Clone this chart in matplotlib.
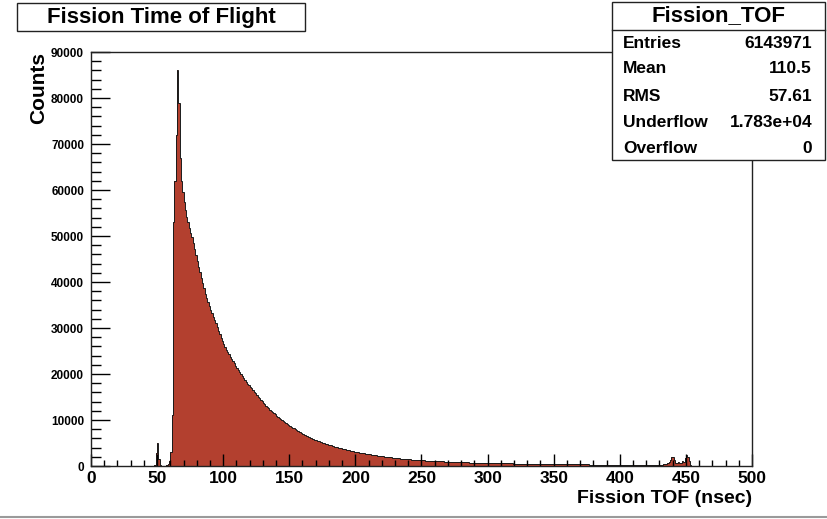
import matplotlib.pyplot as plt
import numpy as np
from matplotlib.patches import Rectangle
from matplotlib.lines import Line2D
from matplotlib.ticker import MultipleLocator

plt.rcParams['font.family'] = ['Liberation Sans', 'DejaVu Sans']
plt.rcParams['font.weight'] = 'bold'

# fission TOF histogram, 1 ns bins starting at 40 ns (empty below that)
first_bin = 40
counts = [
    0, 0, 0, 0, 0, 0, 0, 0, 300, 2800,
    5000, 1500, 300, 80, 30, 30, 60, 150, 400, 1100,
    3000, 11000, 53000, 62000, 72000, 86000, 79000, 67000, 62000, 59500,
    57300, 55600, 54200, 53000, 51800, 50600, 49800, 48500, 47200, 45900,
    44600, 43300, 42100, 40900, 39700, 38600, 37500, 36600, 35700, 34800,
    34000, 33200, 32400, 31700, 31000, 30200, 29400, 28700, 27900, 27200,
    26500, 25900, 25300, 24800, 24300, 23800, 23300, 22800, 22300, 21800,
    21300, 20850, 20400, 19950, 19500, 19100, 18700, 18300, 17900, 17550,
    17200, 16850, 16500, 16150, 15800, 15450, 15100, 14750, 14400, 14080,
    13760, 13440, 13130, 12830, 12530, 12240, 11950, 11700, 11450, 11200,
    10950, 10720, 10490, 10260, 10030, 9800, 9580, 9370, 9160, 8950,
    8750, 8560, 8370, 8180, 8000, 7820, 7650, 7480, 7310, 7150,
    6990, 6830, 6680, 6530, 6390, 6250, 6110, 5980, 5850, 5720,
    5600, 5480, 5360, 5250, 5140, 5030, 4930, 4830, 4730, 4640,
    4550, 4460, 4370, 4280, 4200, 4120, 4040, 3960, 3880, 3810,
    3740, 3670, 3600, 3530, 3460, 3400, 3340, 3270, 3210, 3150,
    3090, 3030, 2970, 2920, 2860, 2810, 2760, 2710, 2660, 2610,
    2560, 2510, 2460, 2420, 2370, 2330, 2280, 2240, 2200, 2160,
    2120, 2080, 2040, 2000, 1960, 1920, 1880, 1850, 1810, 1780,
    1740, 1710, 1680, 1650, 1620, 1590, 1560, 1530, 1500, 1480,
    1450, 1430, 1400, 1380, 1360, 1340, 1320, 1300, 1280, 1260,
    1240, 1220, 1200, 1190, 1170, 1160, 1140, 1120, 1110, 1090,
    1080, 1060, 1050, 1030, 1020, 1000, 990, 970, 960, 950,
    930, 920, 910, 900, 880, 870, 860, 850, 840, 830,
    820, 810, 800, 790, 780, 770, 760, 750, 740, 730,
    720, 710, 705, 695, 690, 680, 675, 665, 660, 655,
    650, 645, 640, 630, 625, 620, 615, 610, 600, 595,
    590, 585, 580, 575, 570, 565, 560, 555, 550, 545,
    540, 535, 530, 525, 520, 515, 510, 505, 500, 495,
    490, 485, 480, 476, 472, 468, 464, 460, 456, 452,
    448, 444, 440, 436, 432, 428, 424, 420, 416, 412,
    408, 405, 402, 399, 396, 393, 390, 387, 384, 381,
    378, 375, 372, 369, 366, 363, 360, 357, 354, 351,
    348, 345, 342, 339, 336, 333, 330, 327, 324, 321,
    318, 315, 312, 309, 306, 303, 300, 297, 294, 291,
    288, 285, 282, 279, 276, 273, 270, 267, 264, 261,
    258, 255, 250, 245, 240, 235, 230, 225, 220, 215,
    210, 205, 200, 195, 190, 185, 180, 175, 170, 165,
    160, 170, 190, 230, 260, 240, 220, 210, 230, 260,
    280, 300, 320, 360, 420, 500, 650, 900, 1400, 1900,
    2000, 1300, 700, 550, 800, 650, 600, 1100, 900, 1700,
    2500, 1900, 1100, 300, 40, 0, 0, 0, 0, 0,
]

hist_name = 'Fission_TOF'
entries = 6143971
mean = 110.5
rms = 57.61
underflow = 1.783e4
overflow = 0

edges = np.arange(first_bin, first_bin + len(counts) + 1)

fig = plt.figure(figsize=(8.27, 5.19), dpi=100)
ax = fig.add_axes([0.110, 0.1021, 0.7993, 0.7977])

ax.stairs(counts, edges, fill=True, color='#b3402f', lw=0)
ax.stairs(counts, edges, color='#1a1a1a', lw=0.7)

ax.set_xlim(0, 500)
ax.set_ylim(0, 90000)

ax.xaxis.set_major_locator(MultipleLocator(50))
ax.xaxis.set_minor_locator(MultipleLocator(10))
ax.yaxis.set_major_locator(MultipleLocator(10000))
ax.yaxis.set_minor_locator(MultipleLocator(2000))

ax.tick_params(axis='x', which='major', direction='in', length=8.6, width=1, labelsize=12.5, pad=3.5)
ax.tick_params(axis='x', which='minor', direction='in', length=4.3, width=1)
ax.tick_params(axis='y', which='major', direction='in', length=13.7, width=1, labelsize=8.5, pad=5)
ax.tick_params(axis='y', which='minor', direction='in', length=7.2, width=1)
for lab in ax.get_xticklabels() + ax.get_yticklabels():
    lab.set_fontweight('bold')

for sp in ax.spines.values():
    sp.set_linewidth(1.0)
    sp.set_color('#222222')

ax.set_xlabel('Fission TOF (nsec)', loc='right', fontsize=14, fontweight='bold', labelpad=3)
ax.set_ylabel('Counts', loc='top', fontsize=15, fontweight='bold', labelpad=2)

# title box
fig.patches.append(Rectangle((0.0206, 0.9403), 0.3482, 0.0539, transform=fig.transFigure,
                             facecolor='white', edgecolor='#222222', lw=1.0))
fig.text(0.1947, 0.9672, 'Fission Time of Flight', ha='center', va='center',
         fontsize=16, fontweight='bold')

# statistics box
fig.patches.append(Rectangle((0.740, 0.6917), 0.2576, 0.3044, transform=fig.transFigure,
                             facecolor='white', edgecolor='#222222', lw=1.0, zorder=5))
fig.lines.append(Line2D([0.740, 0.9976], [0.9422, 0.9422], transform=fig.transFigure,
                        color='#222222', lw=1.0, zorder=6))
fig.text(0.8688, 0.9692, hist_name, ha='center', va='center', fontsize=16,
         fontweight='bold', zorder=7)

rows = [('Entries', f'{entries}'),
        ('Mean', f'{mean:.1f}'),
        ('RMS', f'{rms:.2f}'),
        ('Underflow', f'{underflow:.3e}'),
        ('Overflow', f'{overflow}')]
row_y = [0.9171, 0.8671, 0.8150, 0.7649, 0.7148]
for (name, val), y in zip(rows, row_y):
    fig.text(0.7533, y, name, ha='left', va='center', fontsize=12.5, fontweight='bold', zorder=7)
    fig.text(0.9819, y, val, ha='right', va='center', fontsize=12.5, fontweight='bold', zorder=7)

# grey rule along the bottom edge
fig.lines.append(Line2D([0, 1], [0.004, 0.004], transform=fig.transFigure,
                        color='#9a9a9a', lw=1.5))

fig.savefig('out.png', dpi=100)
